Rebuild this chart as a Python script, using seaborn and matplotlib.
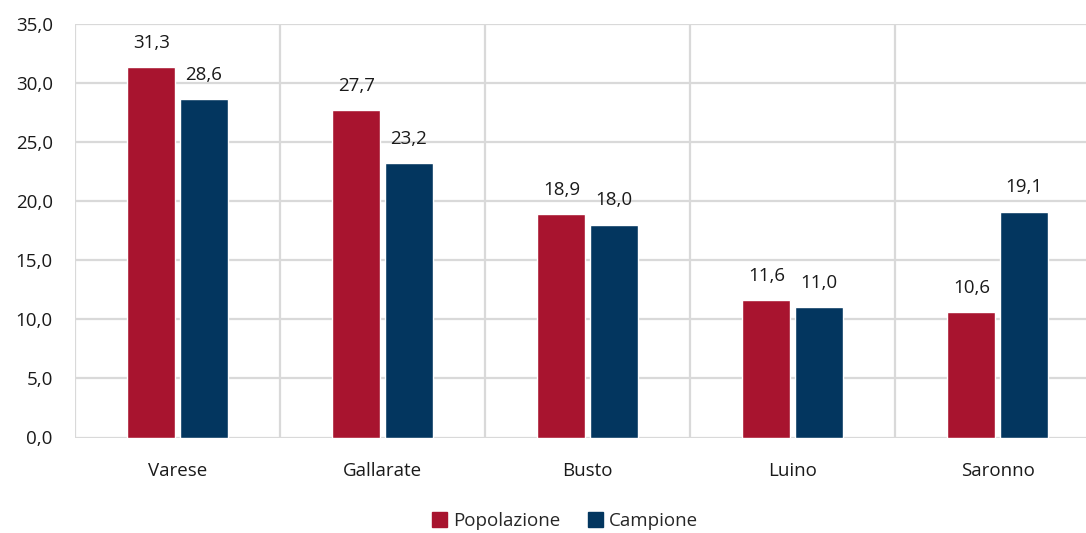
import pandas as pd
import seaborn as sns
import matplotlib.pyplot as plt
from matplotlib.patches import Patch

citta = ["Varese", "Gallarate", "Busto", "Luino", "Saronno"]
popolazione = [31.3, 27.7, 18.9, 11.6, 10.6]
campione = [28.6, 23.2, 18.0, 11.0, 19.1]
serie = ["Popolazione", "Campione"]
colori = ["#A8142F", "#03365F"]

df = pd.DataFrame({
    "citta": citta * 2,
    "serie": [serie[0]] * len(citta) + [serie[1]] * len(citta),
    "valore": popolazione + campione,
})

sns.set_style("white")
plt.rcParams['font.family'] = ['Open Sans', 'DejaVu Sans']
fs = 13.5

fig = plt.figure(figsize=(10.86, 5.33), dpi=100)
ax = fig.add_axes([75 / 1086, 1 - 437.5 / 533, 1025 / 1086, 414 / 533])

sns.barplot(data=df, x="citta", y="valore", hue="serie", palette=colori,
            width=0.51, gap=0.08, ax=ax, legend=False, saturation=1)

for cont in ax.containers:
    labels = [f"{b.get_height():.1f}".replace(".", ",") for b in cont]
    ax.bar_label(cont, labels=labels, padding=11, fontsize=fs, color="#1a1a1a")

ax.set_ylim(0, 35)
ax.set_xlim(-0.5, 4.5)
ax.set_yticks(range(0, 36, 5))
ax.set_yticklabels([f"{v:.1f}".replace(".", ",") for v in range(0, 36, 5)])
ax.set_xticks([i + 0.5 for i in range(-1, 5)], minor=True)
ax.grid(axis="y", color="#d9d9d9", lw=1.6)
ax.grid(axis="x", which="minor", color="#d9d9d9", lw=1.6)
ax.set_axisbelow(True)
for s in ax.spines.values():
    s.set_visible(False)
ax.tick_params(axis="both", which="both", length=0, labelsize=fs, colors="#1a1a1a")
ax.tick_params(axis="x", pad=18)
ax.tick_params(axis="y", pad=16)
ax.set_xlabel("")
ax.set_ylabel("")

handles = [Patch(color=c, label=s) for c, s in zip(colori, serie)]
fig.legend(handles=handles, loc="center", bbox_to_anchor=(565 / 1086, 1 - 521 / 533),
           ncol=2, frameon=False, fontsize=fs, handlelength=0.8, handleheight=0.8,
           handletextpad=0.3, columnspacing=1.5)

fig.savefig("out.png", dpi=100)
